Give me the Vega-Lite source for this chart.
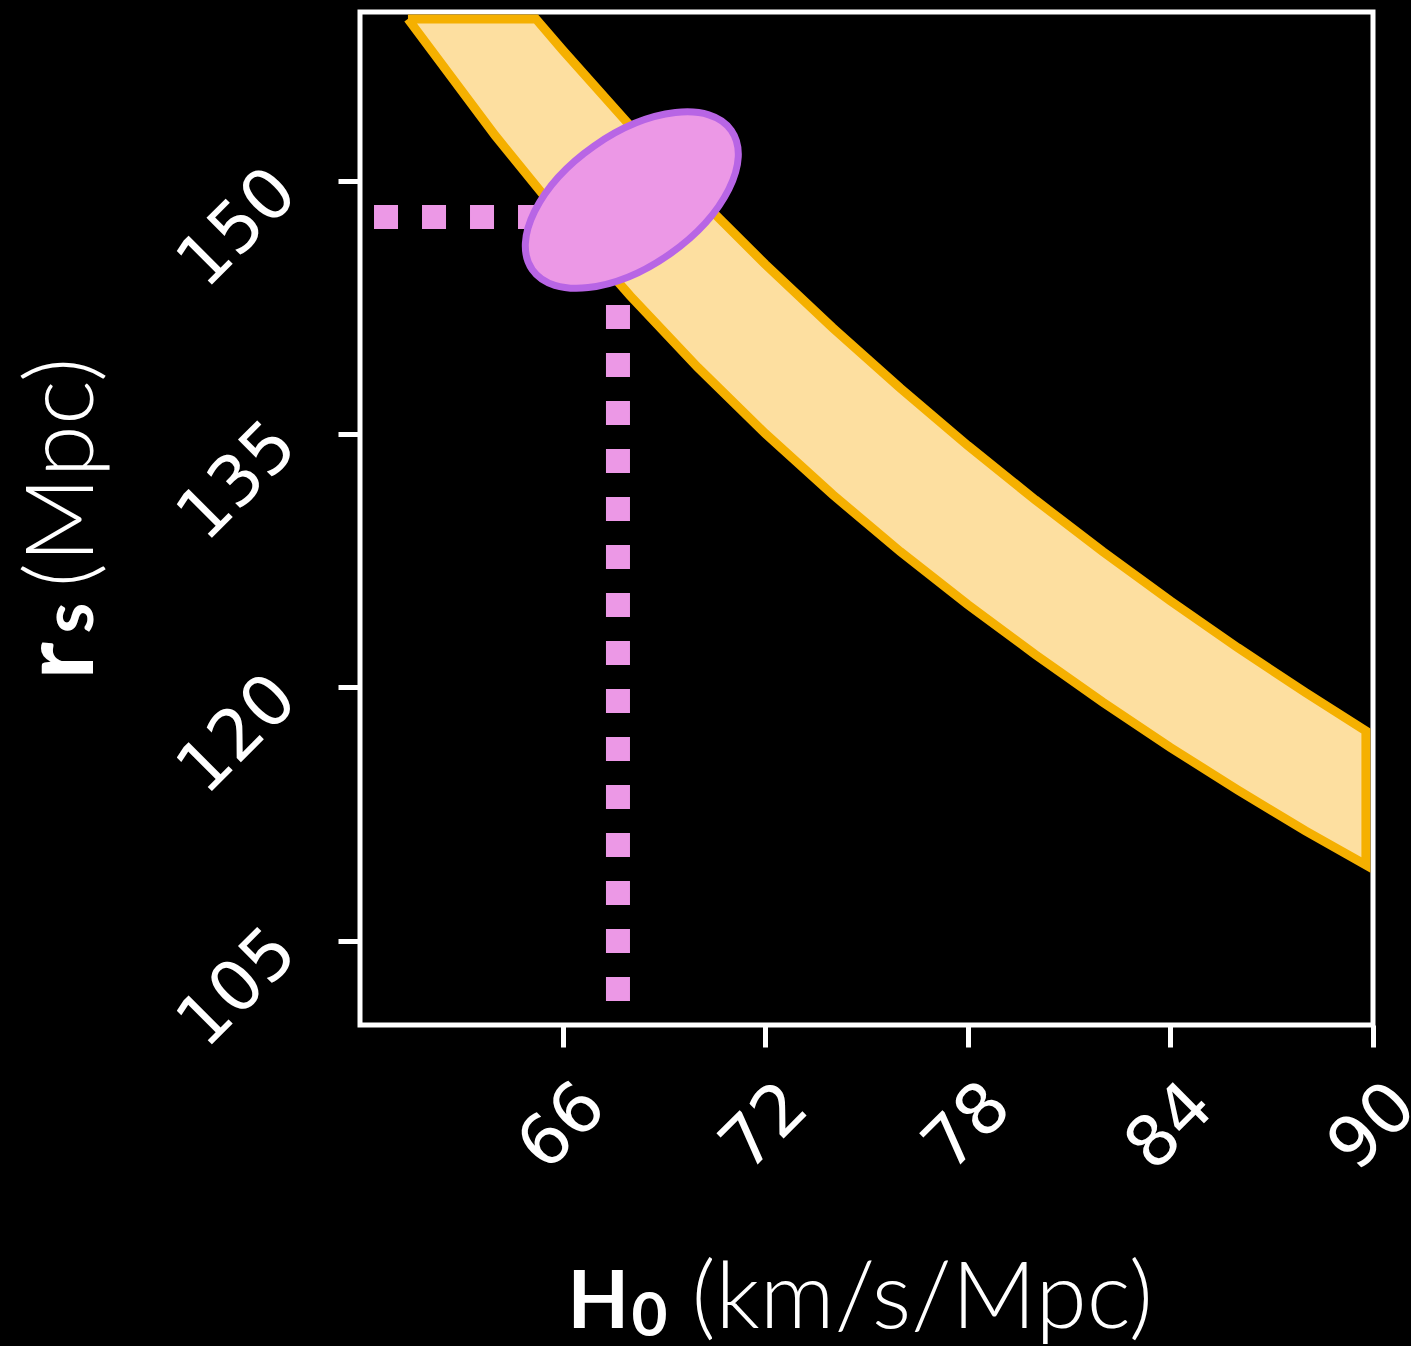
{
  "$schema": "https://vega.github.io/schema/vega-lite/v6.json",
  "width": 1013,
  "height": 1013,
  "autosize": "none",
  "padding": {"left": 360, "top": 12, "right": 38, "bottom": 321},
  "background": "black",
  "datasets": {
    "band": [
      {"i": 0, "H": 61.42, "r": 159.59},
      {"i": 1, "H": 65.21, "r": 159.59},
      {"i": 2, "H": 66, "r": 157.75},
      {"i": 3, "H": 68, "r": 153.27},
      {"i": 4, "H": 70, "r": 149.05},
      {"i": 5, "H": 72, "r": 145.06},
      {"i": 6, "H": 74, "r": 141.29},
      {"i": 7, "H": 76, "r": 137.72},
      {"i": 8, "H": 78, "r": 134.32},
      {"i": 9, "H": 80, "r": 131.10},
      {"i": 10, "H": 82, "r": 128.04},
      {"i": 11, "H": 84, "r": 125.12},
      {"i": 12, "H": 86, "r": 122.34},
      {"i": 13, "H": 88, "r": 119.69},
      {"i": 14, "H": 89.79, "r": 117.41},
      {"i": 15, "H": 89.79, "r": 109.48},
      {"i": 16, "H": 88, "r": 111.50},
      {"i": 17, "H": 86, "r": 113.91},
      {"i": 18, "H": 84, "r": 116.44},
      {"i": 19, "H": 82, "r": 119.12},
      {"i": 20, "H": 80, "r": 121.94},
      {"i": 21, "H": 78, "r": 124.90},
      {"i": 22, "H": 76, "r": 128.04},
      {"i": 23, "H": 74, "r": 131.41},
      {"i": 24, "H": 72, "r": 135.04},
      {"i": 25, "H": 70, "r": 138.96},
      {"i": 26, "H": 68, "r": 143.19},
      {"i": 27, "H": 66, "r": 147.76},
      {"i": 28, "H": 64, "r": 152.69},
      {"i": 29, "H": 61.42, "r": 159.59}
    ],
    "guides": [
      {"seg": "h", "i": 0, "H": 60.415, "r": 147.86},
      {"seg": "h", "i": 1, "H": 66.5, "r": 147.86},
      {"seg": "v", "i": 0, "H": 67.64, "r": 142.64},
      {"seg": "v", "i": 1, "H": 67.64, "r": 101.41}
    ],
    "measure": [
      {"H": 68.05, "r": 148.86}
    ]
  },
  "resolve": {"axis": {"x": "independent", "y": "independent"}},
  "layer": [
    {
      "data": {"name": "band"},
      "mark": {"type": "line", "fill": "#FDDFA0", "stroke": "#F5B000", "strokeWidth": 9, "strokeJoin": "miter", "interpolate": "linear"},
      "encoding": {
        "x": {"field": "H", "type": "quantitative", "scale": {"domain": [60, 90], "nice": false, "zero": false},
          "axis": {"orient": "bottom", "values": [66, 72, 78, 84, 90], "labelAngle": -45, "labelFont": "DejaVu Sans", "labelFontSize": 70, "labelPadding": 24, "labelOffset": 7, "tickSize": 22, "tickWidth": 5,
            "title": "(km/s/Mpc)", "titleFont": "Lato", "titleFontWeight": 300, "titleFontSize": 93, "titleX": 331, "titleY": 302, "titleAlign": "left", "titleBaseline": "alphabetic", "titleAngle": 0}},
        "y": {"field": "r", "type": "quantitative", "scale": {"domain": [100, 160], "nice": false, "zero": false},
          "axis": {"orient": "left", "values": [105, 120, 135, 150], "labelAngle": -45, "labelFont": "DejaVu Sans", "labelFontSize": 70, "labelPadding": 53, "tickSize": 22, "tickWidth": 5,
            "title": "(Mpc)", "titleFont": "Lato", "titleFontWeight": 300, "titleFontSize": 95, "titleX": -268, "titleY": 575, "titleAlign": "left", "titleBaseline": "alphabetic", "titleAngle": 270}},
        "order": {"field": "i", "type": "quantitative"}
      }
    },
    {
      "data": {"name": "guides"},
      "mark": {"type": "line", "stroke": "#EC98E6", "strokeWidth": 24, "strokeDash": [24, 24], "strokeCap": "butt"},
      "encoding": {
        "x": {"field": "H", "type": "quantitative", "scale": {"domain": [60, 90], "nice": false, "zero": false},
          "axis": {"orient": "bottom", "labels": false, "ticks": false, "domain": false, "grid": false,
            "title": "0", "titleFont": "Lato", "titleFontWeight": "bold", "titleFontSize": 62, "titleX": 271, "titleY": 310, "titleAlign": "left", "titleBaseline": "alphabetic", "titleAngle": 0}},
        "y": {"field": "r", "type": "quantitative", "scale": {"domain": [100, 160], "nice": false, "zero": false},
          "axis": {"orient": "left", "labels": false, "ticks": false, "domain": false, "grid": false,
            "title": "s", "titleFont": "Lato", "titleFontWeight": "bold", "titleFontSize": 70, "titleX": -268, "titleY": 621, "titleAlign": "left", "titleBaseline": "alphabetic", "titleAngle": 270}},
        "detail": {"field": "seg", "type": "nominal"},
        "order": {"field": "i", "type": "quantitative"}
      }
    },
    {
      "data": {"name": "measure"},
      "mark": {"type": "point", "filled": true, "shape": "M-1,0C-1,-0.3,-0.5523,-0.543,0,-0.543C0.5523,-0.543,1,-0.3,1,0C1,0.3,0.5523,0.543,0,0.543C-0.5523,0.543,-1,0.3,-1,0Z", "size": 59049, "angle": -35, "fill": "#EC98E6", "stroke": "#B865E5", "strokeWidth": 7, "opacity": 1, "fillOpacity": 1},
      "encoding": {
        "x": {"field": "H", "type": "quantitative", "scale": {"domain": [60, 90], "nice": false, "zero": false},
          "axis": {"orient": "bottom", "labels": false, "ticks": false, "domain": false, "grid": false,
            "title": "H", "titleFont": "Lato", "titleFontWeight": "bold", "titleFontSize": 80, "titleX": 207, "titleY": 302, "titleAlign": "left", "titleBaseline": "alphabetic", "titleAngle": 0}},
        "y": {"field": "r", "type": "quantitative", "scale": {"domain": [100, 160], "nice": false, "zero": false},
          "axis": {"orient": "left", "labels": false, "ticks": false, "domain": false, "grid": false,
            "title": "r", "titleFont": "Lato", "titleFontWeight": "bold", "titleFontSize": 100, "titleX": -268, "titleY": 667, "titleAlign": "left", "titleBaseline": "alphabetic", "titleAngle": 270}}
      }
    }
  ],
  "config": {
    "view": {"stroke": "white", "strokeWidth": 5},
    "axis": {"grid": false, "domain": false, "tickColor": "white", "labelColor": "white", "titleColor": "white"}
  }
}
